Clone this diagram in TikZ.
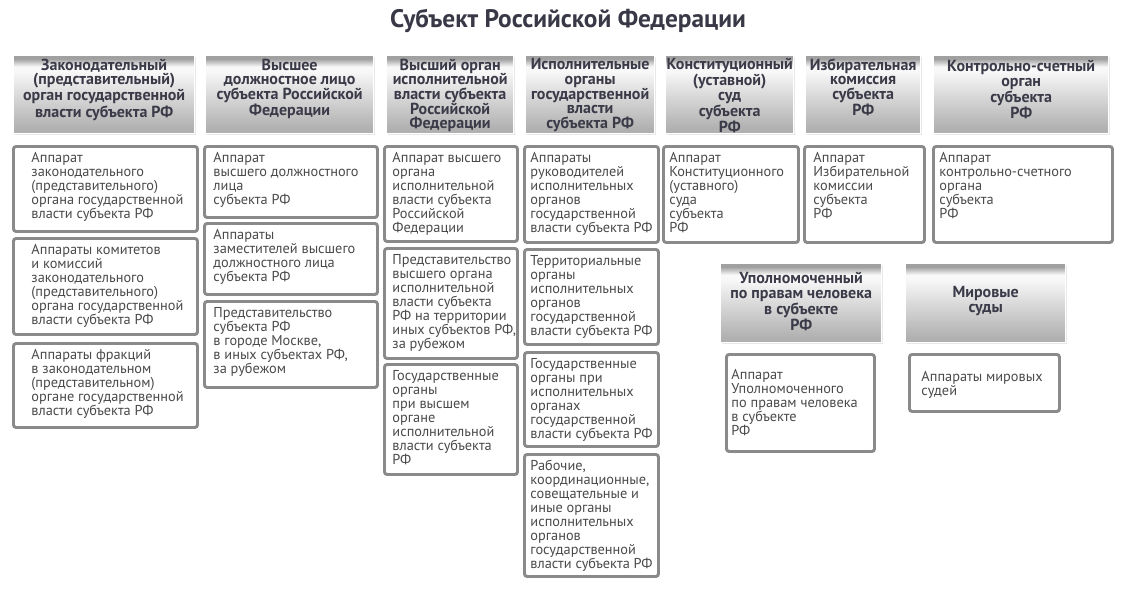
\documentclass[tikz,border=0pt]{standalone}
\usepackage{fontspec}
\setmainfont{PT Sans}
\usetikzlibrary{shadows}
\usepackage{xcolor}

\newlength\pxu
\setlength\pxu{0.75pt}
\definecolor{titlecol}{HTML}{383846}
\definecolor{hdrtextcol}{HTML}{3A3A48}
\definecolor{bodytextcol}{HTML}{4A4A4A}
\definecolor{framecol}{HTML}{8A8A8A}
\definecolor{hdrbot}{HTML}{A0A0A0}
\definecolor{hdrlight}{HTML}{F8F8F8}
\definecolor{hdrmid}{HTML}{DADADA}
\definecolor{hdrtop}{HTML}{B0B0B0}
\pgfdeclareverticalshading{hdrshade}{100bp}{color(0bp)=(hdrtop); color(28bp)=(hdrtop); color(50bp)=(hdrmid); color(65bp)=(hdrlight); color(68bp)=(hdrlight); color(73bp)=(hdrbot); color(100bp)=(hdrbot)}

% box texts: width and height in px
\newcommand{\hdrtxt}[3]{\parbox[c][#2\pxu][t]{#1\pxu}{\centering\vspace*{3\pxu}#3}}
\newcommand{\bodytxt}[5][6]{\parbox[c][#3\pxu][t]{#2\pxu}{\raggedright\leftskip=#4\pxu\vspace*{#1\pxu}#5\par}}

\begin{document}
\begin{tikzpicture}[x=0.75pt, y=-0.75pt,
    hdr/.style = {shade, shading=hdrshade, draw=white, line width=1pt,
                inner sep=0pt, anchor=north west, text=hdrtextcol,
                font=\bfseries\fontsize{12}{11}\selectfont,
                drop shadow={opacity=0.18, shadow xshift=0.8pt, shadow yshift=-0.8pt}},
    card/.style = {draw=framecol, line width=2.2pt, rounded corners=2pt, fill=white,
                inner sep=0pt, anchor=north west, text=bodytextcol,
                font=\fontsize{10.75}{10.5}\selectfont,
                drop shadow={opacity=0.2, shadow xshift=0.8pt, shadow yshift=-0.8pt}},
    maintitle/.style = {font=\bfseries\fontsize{19}{21}\selectfont, text=titlecol}
                    ]
    \def\hh{78}  % header height
    \def\ty{55}  % header top
    \def\by{145} % first row of cards
    \fill[white] (0,0) rectangle (1137,590);
    \useasboundingbox (0,0) rectangle (1137,590);

    \node[maintitle] (title) at (568,21) {Субъект Российской Федерации};

    % headers
    \node[hdr] at (13,\ty) (zak) {\hdrtxt{181}{\hh}{Законодательный\\(представительный)\\орган государственной\\власти субъекта РФ}};
    \node[hdr] at (205,\ty) (vdl) {\hdrtxt{168}{\hh}{Высшее\\должностное лицо\\субъекта Российской\\Федерации}};
    \node[hdr] at (386,\ty) (vois) {\hdrtxt{127}{\hh}{Высший орган\\исполнительной\\власти субъекта\\Российской\\Федерации}};
    \node[hdr] at (525,\ty) (iogv) {\hdrtxt{129}{\hh}{Исполнительные\\органы\\государственной\\власти\\субъекта РФ}};
    \node[hdr] at (665,\ty) (ksud) {\hdrtxt{128}{\hh}{Конституционный\\(уставной)\\суд\\субъекта\\РФ}};
    \node[hdr] at (805,\ty) (izb) {\hdrtxt{115}{\hh}{Избирательная\\комиссия\\субъекта\\РФ}};
    \node[hdr] at (933,\ty) (kso) {\hdrtxt{175}{\hh}{\vspace*{2\pxu}Контрольно-счетный\\орган\\субъекта\\РФ}};
    \node[hdr] at (720,263) (upch) {\hdrtxt{161}{79}{\vspace*{6\pxu}Уполномоченный\\по правам человека\\в субъекте\\РФ}};
    \node[hdr] at (905,263) (mir) {\hdrtxt{160}{79}{\vspace*{20\pxu}Мировые\\суды}};

    % column 1
    \node[card] at (12,\by) (zak1) {\bodytxt{184}{85}{18}{Аппарат\\законодательного\\(представительного)\\органа государственной\\власти субъекта РФ}};
    \node[card] at (12,237) (zak2) {\bodytxt{184}{96}{18}{Аппараты комитетов\\и комиссий\\законодательного\\(представительного)\\органа государственной\\власти субъекта РФ}};
    \node[card] at (12,342) (zak3) {\bodytxt{184}{84}{18}{Аппараты фракций\\в законодательном\\(представительном)\\органе государственной\\власти субъекта РФ}};
    % column 2
    \node[card] at (203,\by) (vdl1) {\bodytxt{173}{71}{9}{Аппарат\\высшего должностного\\лица\\субъекта РФ}};
    \node[card] at (203,222) (vdl2) {\bodytxt{173}{71}{9}{Аппараты\\заместителей высшего\\должностного лица\\субъекта РФ}};
    \node[card] at (203,300) (vdl3) {\bodytxt{173}{86}{9}{Представительство\\субъекта РФ\\в городе Москве,\\в иных субъектах РФ,\\за рубежом}};
    % column 3
    \node[card] at (383,\by) (vois1) {\bodytxt{133}{95}{8}{Аппарат высшего\\органа\\исполнительной\\власти субъекта\\Российской\\Федерации}};
    \node[card] at (383,247) (vois2) {\bodytxt{133}{110}{8}{Представительство\\высшего органа\\исполнительной\\власти субъекта\\РФ на территории\\иных субъектов РФ,\\за рубежом}};
    \node[card] at (383,363) (vois3) {\bodytxt{133}{110}{8}{Государственные\\органы\\при высшем\\органе\\исполнительной\\власти субъекта\\РФ}};
    % column 4
    \node[card] at (523,\by) (iogv1) {\bodytxt{134}{96}{6}{Аппараты\\руководителей\\исполнительных\\органов\\государственной\\власти субъекта РФ}};
    \node[card] at (523,248) (iogv2) {\bodytxt{134}{95}{6}{Территориальные\\органы\\исполнительных\\органов\\государственной\\власти субъекта РФ}};
    \node[card] at (523,351) (iogv3) {\bodytxt{134}{94}{6}{Государственные\\органы при\\исполнительных\\органах\\государственной\\власти субъекта РФ}};
    \node[card] at (523,453) (iogv4) {\bodytxt{134}{122}{6}{Рабочие,\\координационные,\\совещательные и\\иные органы\\исполнительных\\органов\\государственной\\власти субъекта РФ}};
    % columns 5 - 7
    \node[card] at (662,\by) (ksud1) {\bodytxt{135}{96}{6}{Аппарат\\Конституционного\\(уставного)\\суда\\субъекта\\РФ}};
    \node[card] at (803,\by) (izb1) {\bodytxt{120}{96}{9}{Аппарат\\Избирательной\\комиссии\\субъекта\\РФ}};
    \node[card] at (932,\by) (kso1) {\bodytxt{179}{96}{6}{Аппарат\\контрольно-счетного\\органа\\субъекта\\РФ}};
    % second row on the right
    \node[card] at (725,353) (upch1) {\bodytxt[15]{148}{97}{5}{Аппарат\\Уполномоченного\\по правам человека\\в субъекте\\РФ}};
    \node[card] at (908,353) (mir1) {\bodytxt[17]{150}{57}{12}{Аппараты мировых\\судей}};
\end{tikzpicture}
\end{document}
